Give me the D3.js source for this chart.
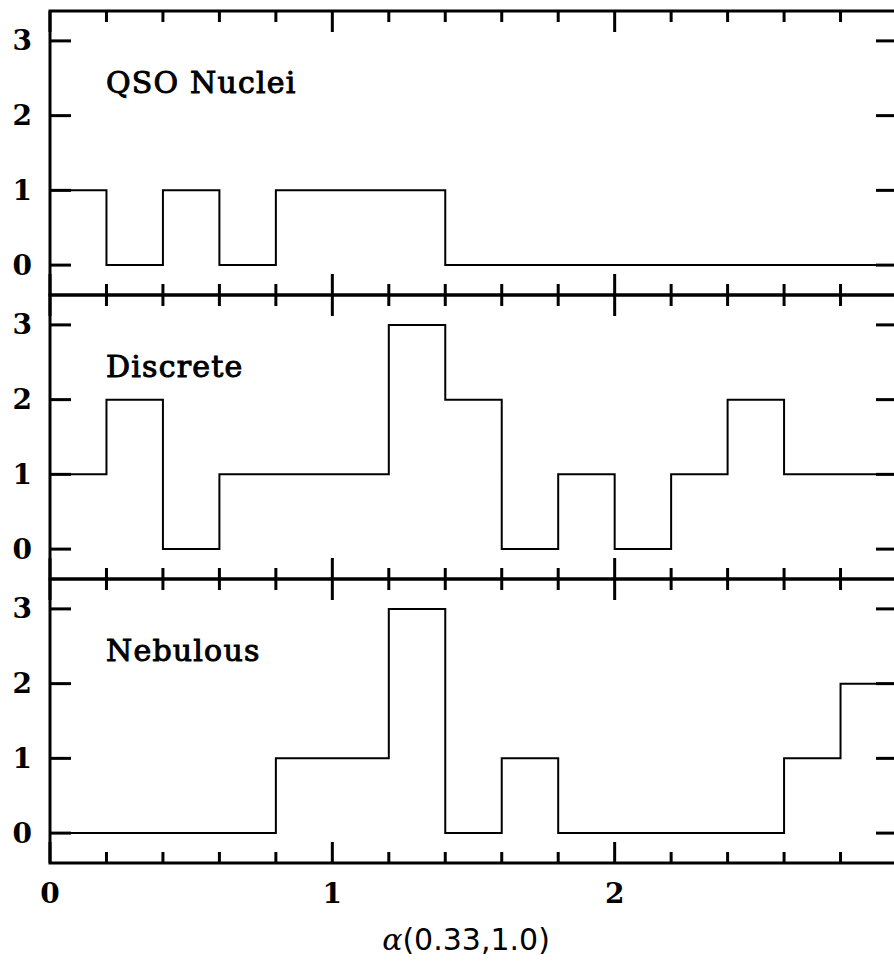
<!DOCTYPE html>
<html>
<head>
<meta charset="utf-8">
<script src="https://cdn.jsdelivr.net/npm/d3@7"></script>
<style>
  html, body { margin: 0; padding: 0; background: #fff; }
  svg { display: block; }
</style>
</head>
<body>
<svg id="chart" width="894" height="962"></svg>
<script>
// Histogram bins: 0.2 wide from 0 to 3
const binEdges = [0, 0.2, 0.4, 0.6, 0.8, 1.0, 1.2, 1.4, 1.6, 1.8, 2.0, 2.2, 2.4, 2.6, 2.8, 3.0];
const panelNames = ["QSO Nuclei", "Discrete", "Nebulous"];
const qsoCounts      = [1, 0, 1, 0, 1, 1, 1, 0, 0, 0, 0, 0, 0, 0, 0];
const discreteCounts = [1, 2, 0, 1, 1, 1, 3, 2, 0, 1, 0, 1, 2, 1, 1];
const nebulousCounts = [0, 0, 0, 0, 1, 1, 3, 0, 1, 0, 0, 0, 0, 1, 2];
const yTickValues = [0, 1, 2, 3];
const xMajorTicks = [0, 1, 2, 3];
const xMinorTicks = [0.2, 0.4, 0.6, 0.8, 1.2, 1.4, 1.6, 1.8, 2.2, 2.4, 2.6, 2.8];
const xAxisTitle = "(0.33,1.0)";

const series = [qsoCounts, discreteCounts, nebulousCounts];

const svg = d3.select("#chart");
const left = 50, right = 897;
const panelTop = 11, panelH = 284;

const x = d3.scaleLinear().domain([0, 3]).range([left, right]);

const frameW = 3, tickW = 3, histW = 2;
const majorLen = 21, minorLen = 11, yTickLen = 21;

series.forEach((counts, i) => {
  const top = panelTop + i * panelH;
  const bottom = top + panelH;
  const y = d3.scaleLinear().domain([-0.4, 3.4]).range([bottom, top]);
  const g = svg.append("g");

  // step histogram
  const pts = counts.map((c, k) => [binEdges[k], c]);
  pts.push([binEdges[binEdges.length - 1], counts[counts.length - 1]]);
  const line = d3.line().x(d => x(d[0])).y(d => y(d[1])).curve(d3.curveStepAfter);
  g.append("path")
    .attr("d", line(pts))
    .attr("fill", "none")
    .attr("stroke", "#000")
    .attr("stroke-width", histW);

  // frame
  g.append("rect")
    .attr("x", left).attr("y", top)
    .attr("width", right - left).attr("height", panelH)
    .attr("fill", "none").attr("stroke", "#000").attr("stroke-width", frameW);

  // x ticks on top and bottom edges, pointing inward
  const xTicks = xMajorTicks.map(v => ({v, len: majorLen}))
    .concat(xMinorTicks.map(v => ({v, len: minorLen})));
  xTicks.forEach(t => {
    g.append("line")
      .attr("x1", x(t.v)).attr("x2", x(t.v))
      .attr("y1", bottom).attr("y2", bottom - t.len)
      .attr("stroke", "#000").attr("stroke-width", tickW);
    g.append("line")
      .attr("x1", x(t.v)).attr("x2", x(t.v))
      .attr("y1", top).attr("y2", top + t.len)
      .attr("stroke", "#000").attr("stroke-width", tickW);
  });

  // y ticks on both sides with labels on the left
  yTickValues.forEach(v => {
    g.append("line")
      .attr("x1", left).attr("x2", left + yTickLen)
      .attr("y1", y(v)).attr("y2", y(v))
      .attr("stroke", "#000").attr("stroke-width", tickW);
    g.append("line")
      .attr("x1", right).attr("x2", right - yTickLen)
      .attr("y1", y(v)).attr("y2", y(v))
      .attr("stroke", "#000").attr("stroke-width", tickW);
    g.append("text")
      .attr("x", 32).attr("y", y(v))
      .attr("text-anchor", "end")
      .attr("dominant-baseline", "central")
      .attr("font-family", "DejaVu Serif")
      .attr("font-weight", "bold")
      .attr("font-size", 28)
      .text(v);
  });

  // panel label
  g.append("text")
    .attr("x", 106).attr("y", y(2.5) + 15)
    .attr("font-family", "DejaVu Serif")
    .attr("font-size", 30)
    .attr("letter-spacing", 1.2)
    .attr("stroke", "#000")
    .attr("stroke-width", 1)
    .text(panelNames[i]);
});

// x tick labels under the bottom panel
const xLabelVals = [0, 1, 2];
xLabelVals.forEach(v => {
  svg.append("text")
    .attr("x", x(v)).attr("y", 893)
    .attr("text-anchor", "middle")
    .attr("dominant-baseline", "central")
    .attr("font-family", "DejaVu Serif")
    .attr("font-weight", "bold")
    .attr("font-size", 28)
    .text(v);
});

// axis title
const title = svg.append("text")
  .attr("x", 466).attr("y", 950)
  .attr("text-anchor", "middle")
  .attr("font-family", "DejaVu Sans")
  .attr("font-size", 30);
title.append("tspan").attr("font-style", "italic").attr("font-family", "DejaVu Serif").text("α");
title.append("tspan").text(xAxisTitle);
</script>
</body>
</html>
